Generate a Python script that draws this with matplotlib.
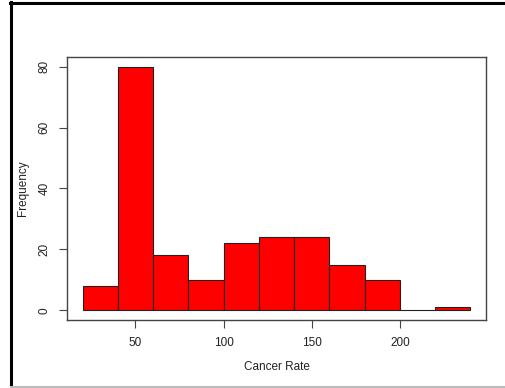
import matplotlib
matplotlib.use("Agg")
import matplotlib.pyplot as plt
from matplotlib.lines import Line2D

bin_edges = [20, 40, 60, 80, 100, 120, 140, 160, 180, 200, 220, 240]
counts = [8, 80, 18, 10, 22, 24, 24, 15, 10, 0, 1]
x_ticks = [50, 100, 150, 200]
y_ticks = [0, 20, 40, 60, 80]
x_label = "Cancer Rate"
y_label = "Frequency"

plt.rcParams['font.family'] = ['Liberation Sans', 'DejaVu Sans']
fig = plt.figure(figsize=(5.06, 3.88), dpi=100)
ax = fig.add_axes([67/506, 1-320/388, (486-67)/506, (320-57)/388])

lefts = bin_edges[:-1]
widths = [b - a for a, b in zip(bin_edges[:-1], bin_edges[1:])]
ax.bar(lefts, counts, width=widths, align='edge', color='#ff0000',
       edgecolor='#222222', linewidth=0.8)

ax.set_xlim(11.2, 248.8)
ax.set_ylim(-3.2, 83.2)
for s in ax.spines.values():
    s.set_color('#444444')
    s.set_linewidth(1.0)
ax.set_xticks(x_ticks)
ax.set_yticks(y_ticks)
ax.set_yticklabels([str(v) for v in y_ticks], rotation=90, va='center')
ax.tick_params(axis='both', direction='out', length=6, width=0.8,
               colors='#444444', labelcolor='#222222', labelsize=8.5, pad=6)
ax.set_xlabel(x_label, fontsize=8.5, color='#222222', labelpad=9)
ax.set_ylabel(y_label, fontsize=8.5, color='#222222', labelpad=7)

# outer frame
fig.add_artist(Line2D([11/506, 11/506], [0, 1-2/388], transform=fig.transFigure,
                      color='black', lw=2.2))
fig.add_artist(Line2D([10/506, 1], [1-3/388, 1-3/388], transform=fig.transFigure,
                      color='black', lw=2.2))
fig.add_artist(Line2D([11/506, 1], [1-387/388, 1-387/388], transform=fig.transFigure,
                      color='#bbbbbb', lw=1.5))

fig.savefig("out.png", dpi=100)
